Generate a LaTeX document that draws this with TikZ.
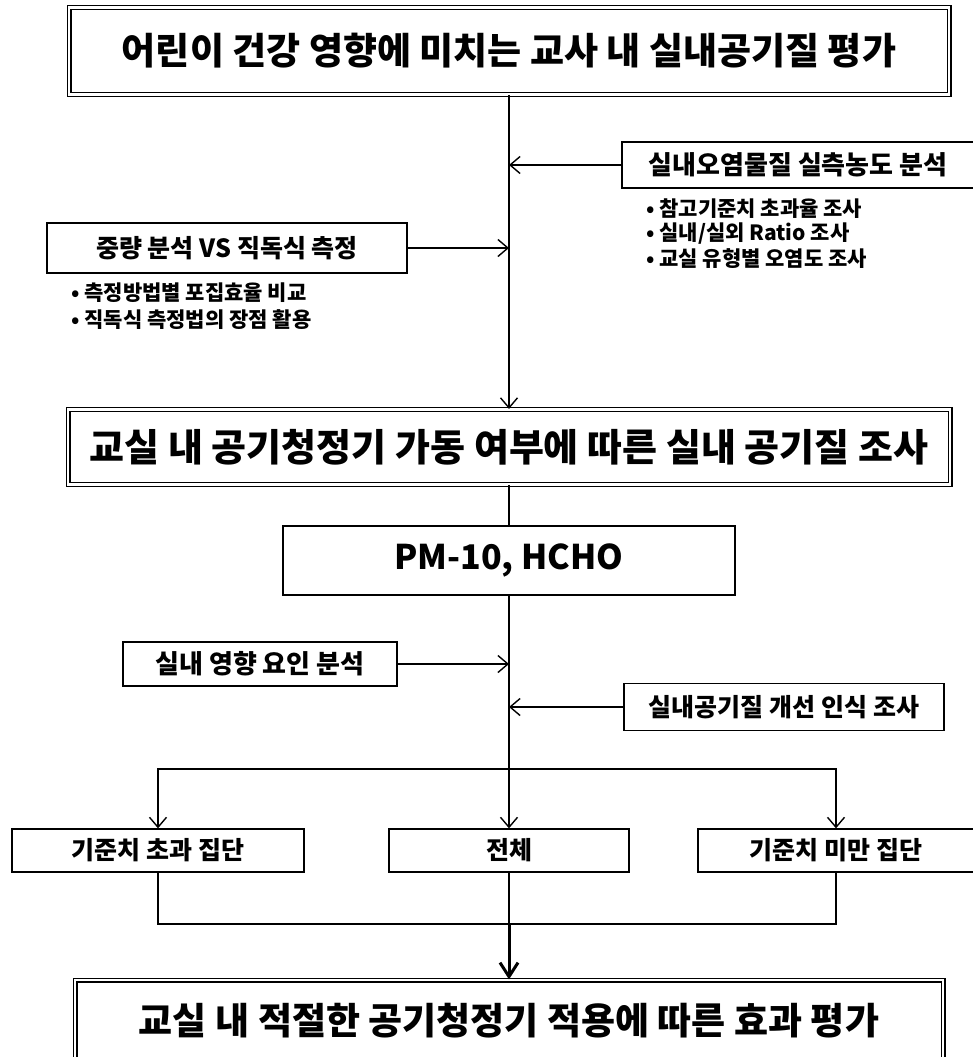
\documentclass[tikz,border=0pt]{standalone}
\usepackage{fontspec}
\newfontfamily\kr{Noto Sans CJK KR}
\usetikzlibrary{arrows.meta}
\begin{document}
\begin{tikzpicture}[x=1pt,y=-1pt,
  box/.style={draw, line width=1.3pt, inner sep=0pt, font=\kr\bfseries\fontsize{25}{28}\selectfont},
  dbox/.style={draw, double, double distance=2.6pt, line width=1.2pt, inner sep=0pt, font=\kr\bfseries\fontsize{37}{42}\selectfont},
  conn/.style={line width=1.4pt},
  arr/.style={conn, -{Straight Barb[length=10pt,width=17pt,line width=1.4pt]}},
  bigarr/.style={line width=3pt, -{Straight Barb[length=14pt,width=18pt,line width=3pt]}},
  bul/.style={anchor=west, inner sep=0pt, font=\kr\bfseries\fontsize{21}{24}\selectfont}]
\useasboundingbox (0,0) rectangle (973,1057);
\clip (0,0) rectangle (973,1057);
\fill[white] (0,0) rectangle (973,1057);

% main boxes
\node[dbox, minimum width=880pt, minimum height=87pt] (t1) at (509,51) {어린이 건강 영향에 미치는 교사 내 실내공기질 평가};
\node[dbox, minimum width=882pt, minimum height=75pt, font=\kr\bfseries\fontsize{38}{42}\selectfont] (t2) at (509,447) {교실 내 공기청정기 가동 여부에 따른 실내 공기질 조사};
\node[dbox, minimum width=868pt, minimum height=82pt] (t3) at (509,1021) {교실 내 적절한 공기청정기 적용에 따른 효과 평가};

% side boxes
\node[box, minimum width=352pt, minimum height=46pt, font=\kr\bfseries\fontsize{26}{28}\selectfont] (s1) at (798,165) {실내오염물질 실측농도 분석};
\node[box, minimum width=360pt, minimum height=50pt] (s2) at (227,248) {중량 분석 VS 직독식 측정};
\node[box, minimum width=452pt, minimum height=69pt, font=\kr\bfseries\fontsize{34}{40}\selectfont] (pm) at (509,560.5) {PM-10, HCHO};
\node[box, minimum width=274pt, minimum height=44pt, font=\kr\bfseries\fontsize{26}{28}\selectfont] (s3) at (260,664) {실내 영향 요인 분석};
\node[box, minimum width=320pt, minimum height=47pt] (s4) at (784,707) {실내공기질 개선 인식 조사};

% bullets
\node[bul] (r1) at (646,209) {• 참고기준치 초과율 조사};
\node[bul] (r2) at (646,234) {• 실내/실외 Ratio 조사};
\node[bul] (r3) at (646,259) {• 교실 유형별 오염도 조사};
\node[bul] (l1) at (71,293) {• 측정방법별 포집효율 비교};
\node[bul] (l2) at (71,320) {• 직독식 측정법의 장점 활용};

% group boxes
\node[box, minimum width=292pt, minimum height=43pt] (g1) at (158,850.5) {기준치 초과 집단};
\node[box, minimum width=240pt, minimum height=43pt] (g2) at (509,850.5) {전체};
\node[box, minimum width=276pt, minimum height=43pt] (g3) at (836,850.5) {기준치 미만 집단};

\coordinate (br) at (509,769);
\coordinate (mg) at (509,924);

% connectors
\draw[arr] (t1.south) -- (t2.north);
\draw[arr] (s1.west) -- (s1.west -| t1.south);
\draw[arr] (s2.east) -- (s2.east -| t1.south);
\draw[conn] (t2.south) -- (pm.north);
\draw[conn] (pm.south) -- (br);
\draw[arr] (s3.east) -- (s3.east -| pm.south);
\draw[arr] (s4.west) -- (s4.west -| pm.south);
\draw[arr] (br) -- (g2.north);
\draw[arr] (br) -| (g1.north);
\draw[arr] (br) -| (g3.north);
\draw[conn] (g1.south) |- (mg);
\draw[conn] (g3.south) |- (mg);
\draw[conn] (g2.south) -- (mg);
\draw[bigarr] (mg) -- (t3.north);
\end{tikzpicture}
\end{document}
